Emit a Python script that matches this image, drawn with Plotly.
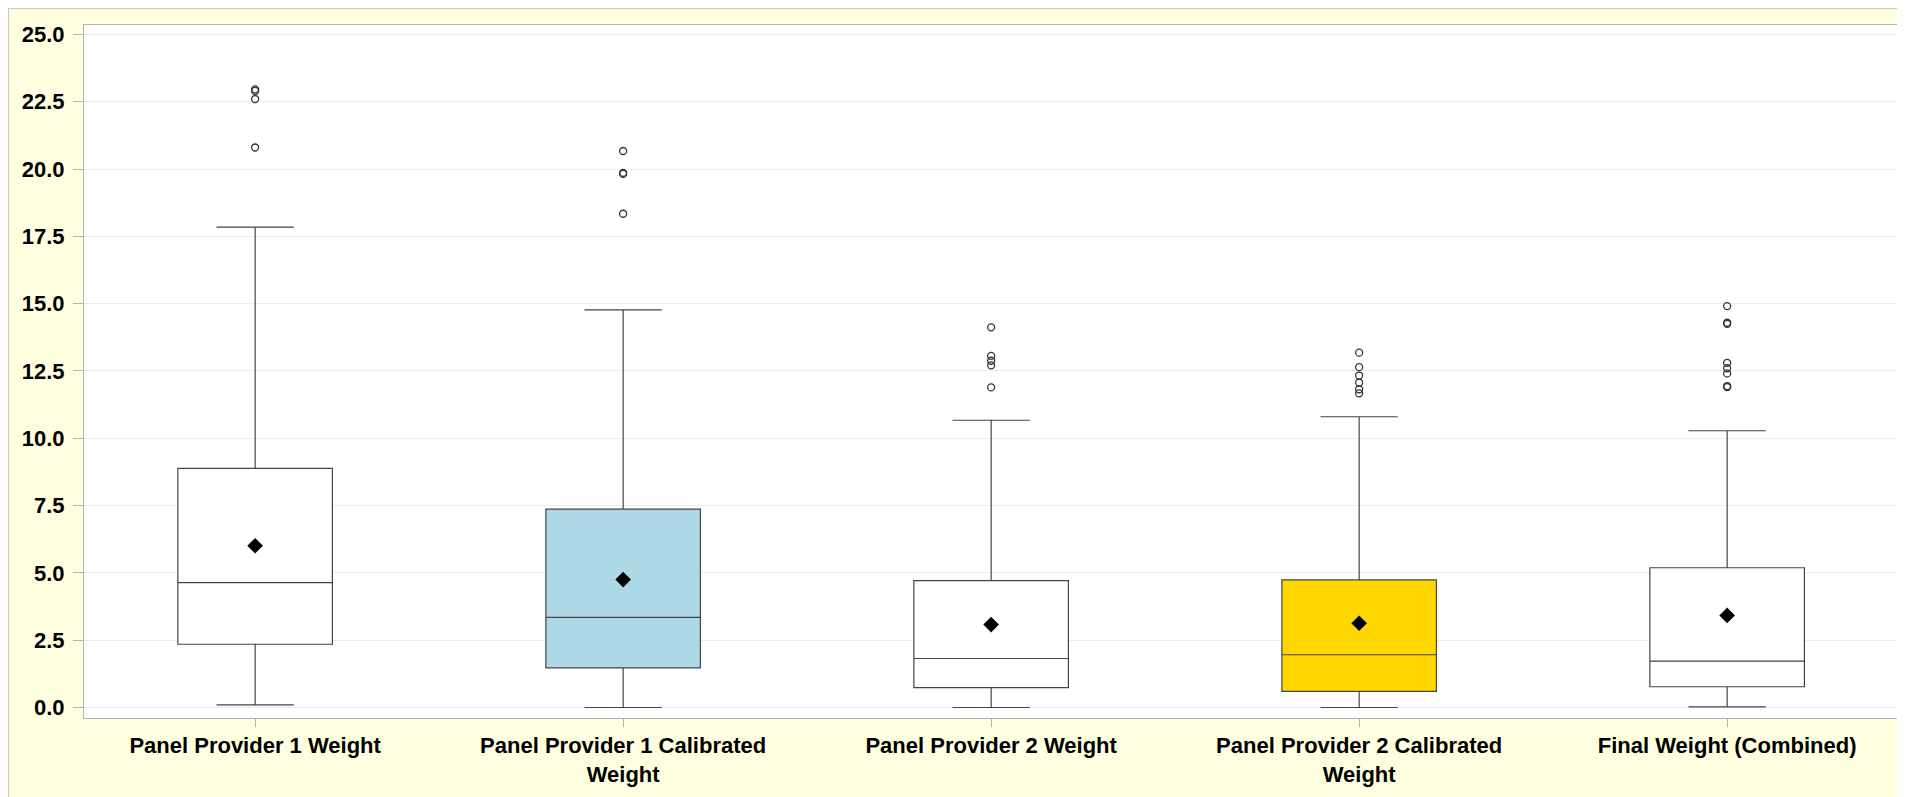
import plotly.graph_objects as go

categories = ["Panel Provider 1 Weight", "Panel Provider 1 Calibrated<br>Weight",
              "Panel Provider 2 Weight", "Panel Provider 2 Calibrated<br>Weight",
              "Final Weight (Combined)"]
positions = [0, 1, 2, 3, 4]
q1 = [2.35, 1.47, 0.74, 0.60, 0.77]
median = [4.64, 3.35, 1.82, 1.96, 1.72]
q3 = [8.88, 7.37, 4.71, 4.74, 5.19]
lower_whisker = [0.10, 0.0, 0.0, 0.0, 0.02]
upper_whisker = [17.84, 14.77, 10.67, 10.80, 10.28]
means = [6.01, 4.75, 3.08, 3.13, 3.42]
outliers = [
    [22.96, 22.90, 22.60, 20.80],
    [20.67, 19.86, 19.82, 18.34],
    [14.12, 13.06, 12.88, 12.71, 11.89],
    [13.18, 12.64, 12.33, 12.07, 11.82, 11.67],
    [14.91, 14.29, 14.25, 12.80, 12.60, 12.41, 11.94, 11.90],
]
fills = ["white", "#ADD8E6", "white", "#FFD700", "white"]
y_ticks = [0, 2.5, 5, 7.5, 10, 12.5, 15, 17.5, 20, 22.5, 25]
y_tick_text = ["0.0", "2.5", "5.0", "7.5", "10.0", "12.5", "15.0", "17.5", "20.0", "22.5", "25.0"]

# the page body adds an 8px offset, so the figure is 8px smaller
W, H = 1897, 789
ML, MR, MT, MB = 76, 6, 17, 79
PW, PH = W - ML - MR, H - MT - MB

fig = go.Figure()
for i, pos in enumerate(positions):
    fig.add_trace(go.Box(
        x=[pos], q1=[q1[i]], median=[median[i]], q3=[q3[i]],
        lowerfence=[lower_whisker[i]], upperfence=[upper_whisker[i]],
        width=0.42, whiskerwidth=0.5, fillcolor=fills[i],
        line=dict(color="#444444", width=1.2), boxpoints=False,
        showlegend=False, hoverinfo="skip",
    ))
    fig.add_trace(go.Scatter(
        x=[pos] * len(outliers[i]), y=outliers[i], mode="markers",
        marker=dict(symbol="circle-open", size=7, color="#333333", line=dict(width=1.3)),
        showlegend=False, hoverinfo="skip",
    ))
    fig.add_trace(go.Scatter(
        x=[pos], y=[means[i]], mode="markers",
        marker=dict(symbol="diamond", size=12, color="black"),
        showlegend=False, hoverinfo="skip",
    ))

# thin gray frame along top and left edge of the page
fig.add_shape(type="line", xref="paper", yref="paper",
              x0=-ML / PW, x1=1 + MR / PW, y0=1 + (MT - 0.5) / PH, y1=1 + (MT - 0.5) / PH,
              line=dict(color="#C8C8C8", width=1))
fig.add_shape(type="line", xref="paper", yref="paper",
              x0=-(ML - 0.5) / PW, x1=-(ML - 0.5) / PW, y0=-MB / PH, y1=1 + MT / PH,
              line=dict(color="#C8C8C8", width=1))

axis_col = "#B4B4B4"
fig.update_layout(
    width=W, height=H,
    margin=dict(l=ML, r=MR, t=MT, b=MB, autoexpand=False),
    paper_bgcolor="#FFFFE0", plot_bgcolor="white",
    font=dict(family="Liberation Sans, Arial, sans-serif", color="black", size=22),
    xaxis=dict(
        tickmode="array", tickvals=positions, ticktext=categories,
        range=[-0.465, 4.467], showgrid=False, zeroline=False, automargin=False,
        showline=True, linecolor=axis_col, mirror=True, linewidth=1,
        ticks="outside", ticklen=8, tickcolor=axis_col,
        tickfont=dict(family="Liberation Sans, Arial, sans-serif", size=22, weight="bold", color="black"),
    ),
    yaxis=dict(
        tickmode="array", tickvals=y_ticks, ticktext=y_tick_text, automargin=False,
        range=[-0.39, 25.35], showgrid=True, gridcolor="#EBEBEB", zeroline=False,
        showline=True, linecolor=axis_col, mirror=True, linewidth=1,
        ticks="outside", ticklen=10, tickcolor=axis_col, ticklabelstandoff=4,
        tickfont=dict(family="Liberation Sans, Arial, sans-serif", size=22, weight="bold", color="black"),
    ),
)
fig.write_html("out.html")
